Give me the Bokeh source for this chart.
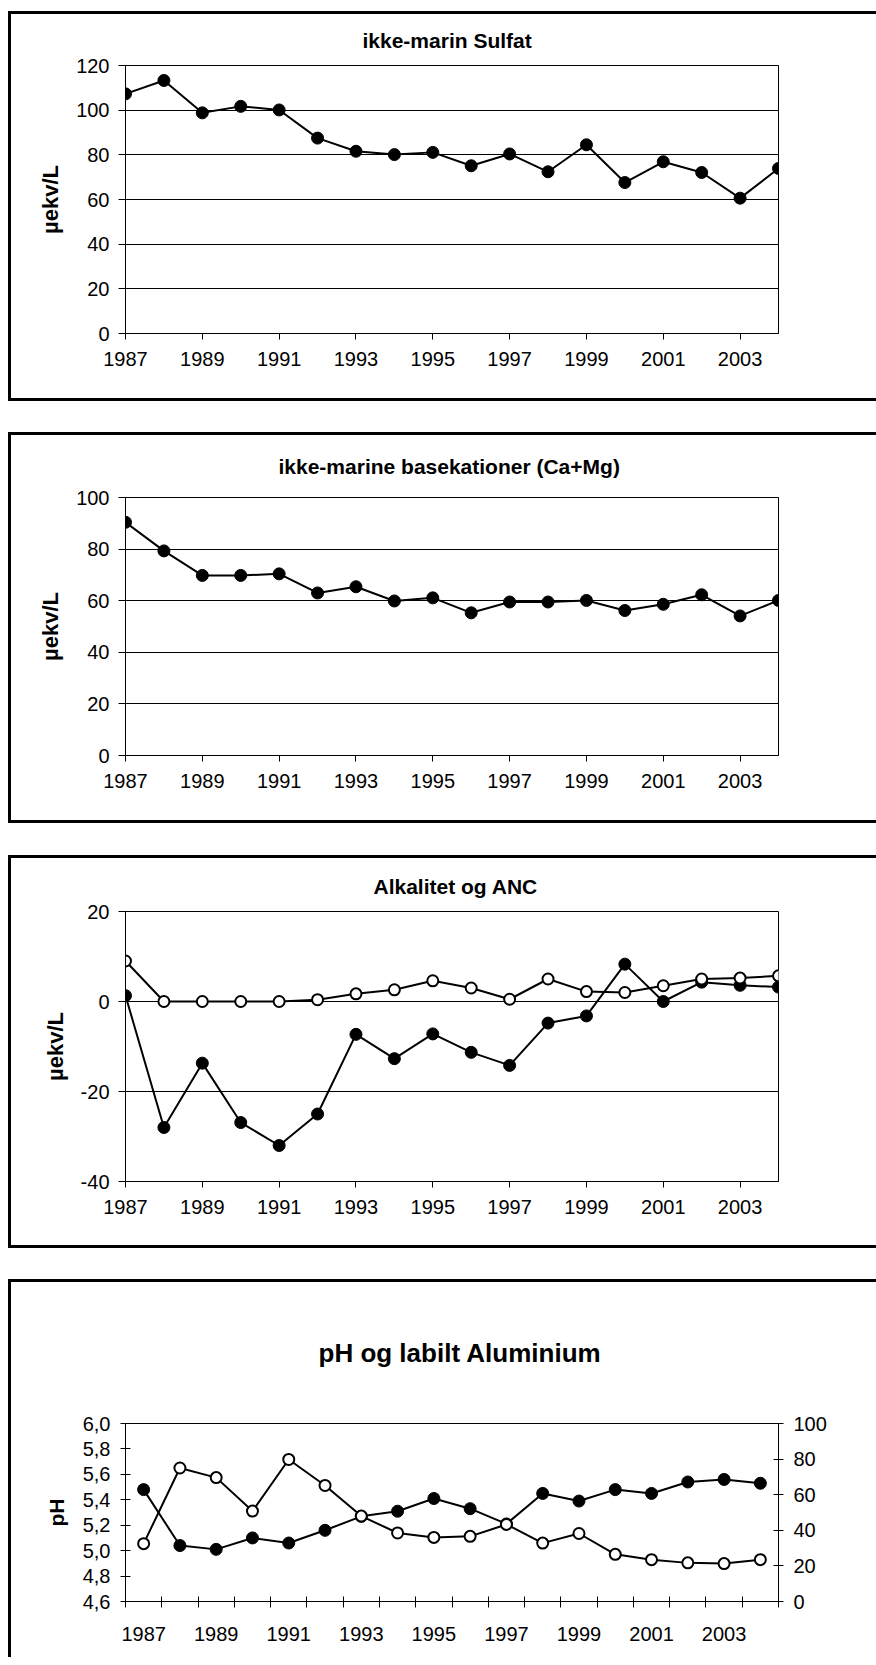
from math import pi
from bokeh.plotting import figure
from bokeh.layouts import column, row
from bokeh.models import FixedTicker, LinearAxis, Range1d, Spacer, CustomJSTickFormatter, Label
from bokeh.embed import file_html
from bokeh.resources import INLINE

# ---------------- data ----------------
years = list(range(1987, 2005))
year_ticks = [1987, 1989, 1991, 1993, 1995, 1997, 1999, 2001, 2003]

sulfat = [107.3, 113.3, 98.8, 101.7, 100.1, 87.5, 81.6, 80.1, 81.1, 75.1,
          80.4, 72.4, 84.5, 67.6, 76.9, 72.1, 60.6, 73.9]
basekationer = [90.4, 79.3, 69.8, 69.8, 70.4, 63.0, 65.4, 59.9, 61.1, 55.3,
                59.5, 59.5, 60.1, 56.2, 58.6, 62.3, 54.1, 60.1]
anc = [1.3, -28.0, -13.7, -26.9, -32.0, -25.0, -7.3, -12.7, -7.2, -11.3,
       -14.2, -4.8, -3.2, 8.3, 0.0, 4.3, 3.6, 3.2]
alkalitet = [9.0, 0.0, 0.0, 0.0, 0.0, 0.4, 1.7, 2.6, 4.6, 3.0,
             0.5, 5.0, 2.2, 2.0, 3.5, 5.0, 5.2, 5.7]
ph = [5.48, 5.04, 5.01, 5.10, 5.06, 5.16, 5.27, 5.31, 5.41, 5.33,
      5.21, 5.45, 5.39, 5.48, 5.45, 5.54, 5.56, 5.53]
lal = [32.5, 75.0, 69.6, 50.8, 79.8, 65.2, 48.0, 38.5, 36.0, 36.6,
       43.3, 32.8, 38.2, 26.5, 23.5, 21.7, 21.3, 23.5]

sulfat_ticks = [0, 20, 40, 60, 80, 100, 120]
base_ticks = [0, 20, 40, 60, 80, 100]
alk_ticks = [-40, -20, 0, 20]
ph_ticks = [4.6, 4.8, 5.0, 5.2, 5.4, 5.6, 5.8, 6.0]
lal_ticks = [0, 20, 40, 60, 80, 100]

titles = ["ikke-marin Sulfat", "ikke-marine basekationer (Ca+Mg)",
          "Alkalitet og ANC", "pH og labilt Aluminium"]
ylabel = "\u00b5ekv/L"
ph_label = "pH"
lal_label = "LAl \u00b5g/L"

# ---------------- style ----------------
FONT = "Liberation Sans"
W = 868
SH3 = "inset 3px 0 0 0 #000, inset 0 3px 0 0 #000, inset 0 -3px 0 0 #000"
SH2 = "inset 3px 0 0 0 #000, inset 0 3px 0 0 #000"
PLAIN = CustomJSTickFormatter(code="return tick.toString();")


def style_axis(ax, tick_in=0, tick_out=6, standoff=10, label_size="21px"):
    ax.axis_line_color = "black"
    ax.axis_line_width = 1
    ax.major_tick_line_color = "black"
    ax.major_tick_in = tick_in
    ax.major_tick_out = tick_out
    ax.minor_tick_line_color = None
    ax.major_label_text_font = FONT
    ax.major_label_text_font_size = "20px"
    ax.major_label_text_color = "black"
    ax.major_label_standoff = standoff
    ax.axis_label_text_font = FONT
    ax.axis_label_text_font_size = label_size
    ax.axis_label_text_font_style = "bold"
    ax.axis_label_text_color = "black"


def style_title(p, text, offset, standoff, size="21px"):
    p.title.text = text
    p.title.align = "left"
    p.title.offset = offset
    p.title.standoff = standoff
    p.title.text_font = FONT
    p.title.text_font_size = size
    p.title.text_font_style = "bold"
    p.title.text_color = "black"


def std_panel(title, toff, tstand, yr, yticks, height, mb):
    p = figure(width=W, height=height, x_range=Range1d(1987, 2004),
               y_range=Range1d(*yr), output_backend="svg", toolbar_location=None,
               min_border_left=mb[0], min_border_right=mb[1],
               min_border_top=mb[2], min_border_bottom=mb[3])
    p.styles = {"box-shadow": SH3}
    p.border_fill_color = None
    p.background_fill_color = "white"
    p.outline_line_color = "black"
    p.outline_line_width = 1
    style_title(p, title, toff, tstand)
    p.xgrid.visible = False
    p.ygrid.ticker = FixedTicker(ticks=yticks)
    p.ygrid.grid_line_color = "black"
    p.ygrid.grid_line_width = 1
    p.xaxis.ticker = FixedTicker(ticks=year_ticks)
    p.yaxis.ticker = FixedTicker(ticks=yticks)
    p.yaxis.formatter = PLAIN
    style_axis(p.xaxis[0], tick_in=0, tick_out=6, standoff=12)
    style_axis(p.yaxis[0], tick_in=0, tick_out=7, standoff=9, label_size="22px")
    p.yaxis.axis_label = ylabel
    p.yaxis.axis_label_standoff = 10
    return p


def add_series(p, x, y, filled, y_range_name="default"):
    p.line(x, y, line_color="black", line_width=2, y_range_name=y_range_name)
    if filled:
        p.scatter(x, y, size=12, marker="circle", line_color="black", line_width=1,
                  fill_color="black", y_range_name=y_range_name)
    else:
        p.scatter(x, y, size=11, marker="circle", line_color="black", line_width=2,
                  fill_color="white", y_range_name=y_range_name)


# panel 1
p1 = std_panel(titles[0], 237, 28, (0, 120), sulfat_ticks, 390, (117, 35, 54, 68))
add_series(p1, years, sulfat, True)

# panel 2
p2 = std_panel(titles[1], 153, 40, (0, 100), base_ticks, 391, (115, 35, 53, 68))
add_series(p2, years, basekationer, True)

# panel 3
p3 = std_panel(titles[2], 248, 28, (-40, 20), alk_ticks, 393, (108, 32, 56, 67))
add_series(p3, years, anc, True)
add_series(p3, years, alkalitet, False)

# panel 4
p4 = figure(width=W, height=378, x_range=Range1d(1986.5, 2004.5),
            y_range=Range1d(4.6, 6.0), output_backend="svg", toolbar_location=None,
            min_border_left=107, min_border_right=98, min_border_top=100,
            min_border_bottom=56)
p4.styles = {"box-shadow": SH2}
p4.border_fill_color = None
p4.background_fill_color = "white"
p4.outline_line_color = "black"
p4.outline_line_width = 1
style_title(p4, titles[3], 193, 112, size="26px")
p4.xgrid.visible = False
p4.ygrid.visible = False
p4.extra_y_ranges = {"lal": Range1d(0, 100)}

p4.xaxis.ticker = FixedTicker(ticks=year_ticks,
                              minor_ticks=[y - 0.5 for y in years] + [years[-1] + 0.5])
style_axis(p4.xaxis[0], tick_in=0, tick_out=0, standoff=19)
p4.xaxis.minor_tick_line_color = "black"
p4.xaxis.minor_tick_in = 5
p4.xaxis.minor_tick_out = 6

p4.yaxis.ticker = FixedTicker(ticks=ph_ticks)
p4.yaxis.formatter = CustomJSTickFormatter(code="return tick.toFixed(1).replace('.', ',');")
style_axis(p4.yaxis[0], tick_in=5, tick_out=5, standoff=10)
p4.yaxis.axis_label = ph_label
p4.yaxis.axis_label_standoff = 12

right = LinearAxis(y_range_name="lal", ticker=FixedTicker(ticks=lal_ticks), formatter=PLAIN)
style_axis(right, tick_in=5, tick_out=5, standoff=10)
p4.add_layout(right, "right")

add_series(p4, years, ph, True)
add_series(p4, years, lal, False, y_range_name="lal")

p4.add_layout(Label(x=2004.5, y=5.3, x_offset=71, text=lal_label, angle=pi / 2,
                    text_align="center", text_baseline="middle", text_font=FONT,
                    text_font_size="21px", text_font_style="bold", text_color="black"))

stack = column(Spacer(width=W, height=11), p1, Spacer(width=W, height=31), p2,
               Spacer(width=W, height=32), p3, Spacer(width=W, height=31), p4)
layout = row(Spacer(width=8, height=10), stack)

open("out.html", "w").write(file_html(layout, INLINE))
